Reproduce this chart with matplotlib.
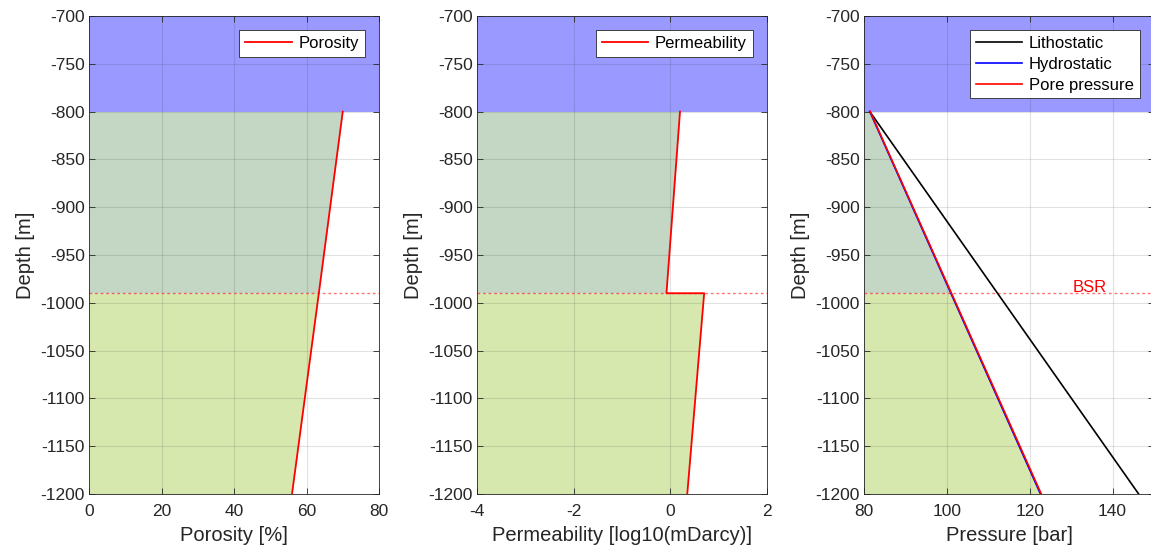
import numpy as np
import matplotlib
matplotlib.use('Agg')
import matplotlib.pyplot as plt

plt.rcParams['font.family'] = ['Liberation Sans', 'DejaVu Sans']
plt.rcParams['axes.unicode_minus'] = False

# Depth model [m]
SeaFloor = -800
BSR = -990
Bottom = -1200
Top = -700

# Porosity [%] at seafloor, BSR, bottom
PorosityDepth = [-800, -990, -1200]
Porosity = [70.0, 63.4, 56.0]

# Permeability [log10(mDarcy)], jump at BSR
PermDepth = [-800, -990, -990, -1200]
Permeability = [0.2, -0.08, 0.7, 0.35]

# Pressure [bar]
PressDepth = [-800, -1200]
Lithostatic = [81.4, 146.3]
Hydrostatic = [81.4, 122.6]
PorePressure = [81.5, 122.8]

SeaColor = '#9999FF'
HydrateColor = '#C4D6C4'
SedColor = '#D6E8AE'
TextColor = '#262626'

fig = plt.figure(figsize=(11.51, 5.49), dpi=100)
bottom = 1 - 494/549
height = (494 - 16)/549
width = 290/1151
ax1 = fig.add_axes([89/1151, bottom, width, height])
ax2 = fig.add_axes([477/1151, bottom, width, height])
ax3 = fig.add_axes([864/1151, bottom, width, height])

def style_axes(ax, xlim, xticks, xlabel):
    ax.set_xlim(xlim)
    ax.set_ylim(Bottom, Top)
    ax.set_xticks(xticks)
    ax.set_yticks(np.arange(-1200, -699, 50))
    ax.tick_params(direction='in', length=4, width=0.6, color=TextColor,
                   labelcolor=TextColor, labelsize=12.5, top=True, right=True, pad=3)
    ax.tick_params(axis='x', pad=7)
    ax.grid(True, color='#262626', alpha=0.13, linewidth=0.8)
    ax.set_axisbelow(False)
    for s in ax.spines.values():
        s.set_color(TextColor)
        s.set_linewidth(0.6)
    ax.set_xlabel(xlabel, fontsize=14.5, color=TextColor, labelpad=5)
    ax.set_ylabel('Depth [m]', fontsize=14.5, color=TextColor, labelpad=4)
    # water column above seafloor
    ax.fill_between(xlim, SeaFloor, Top, color=SeaColor, linewidth=0, zorder=0.5)
    ax.axhline(BSR, color='red', linestyle=(0, (2, 2)), linewidth=1.0, alpha=0.55, zorder=3)

def fill_zones(ax, x, d, xmin):
    x = np.asarray(x, float)
    d = np.asarray(d, float)
    upper = d >= BSR
    lower = d <= BSR
    ax.fill_betweenx(d[upper], xmin, x[upper], color=HydrateColor, linewidth=0, zorder=0.6)
    ax.fill_betweenx(d[lower], xmin, x[lower], color=SedColor, linewidth=0, zorder=0.6)

# Porosity
style_axes(ax1, (0, 80), [0, 20, 40, 60, 80], 'Porosity [%]')
fill_zones(ax1, Porosity, PorosityDepth, 0)
ax1.plot(Porosity, PorosityDepth, color='red', linewidth=1.3, label='Porosity', zorder=4)

# Permeability
style_axes(ax2, (-4, 2), [-4, -2, 0, 2], 'Permeability [log10(mDarcy)]')
ax2.fill_betweenx(PermDepth[:2], -4, Permeability[:2], color=HydrateColor, linewidth=0, zorder=0.6)
ax2.fill_betweenx(PermDepth[2:], -4, Permeability[2:], color=SedColor, linewidth=0, zorder=0.6)
ax2.plot(Permeability, PermDepth, color='red', linewidth=1.3, label='Permeability', zorder=4)

# Pressure
style_axes(ax3, (80, 150), [80, 100, 120, 140], 'Pressure [bar]')
d = np.array([SeaFloor, BSR, Bottom], float)
p = np.interp(-d, -np.array(PressDepth, float), Hydrostatic)
ax3.fill_betweenx(d[:2], 80, p[:2], color=HydrateColor, linewidth=0, zorder=0.6)
ax3.fill_betweenx(d[1:], 80, p[1:], color=SedColor, linewidth=0, zorder=0.6)
ax3.plot(Lithostatic, PressDepth, color='black', linewidth=1.2, label='Lithostatic', zorder=4)
ax3.plot(Hydrostatic, PressDepth, color='blue', linewidth=1.2, label='Hydrostatic', zorder=4)
ax3.plot(PorePressure, PressDepth, color='red', linewidth=1.2, label='Pore pressure', zorder=5)
ax3.text(134.5, BSR - 1.5, 'BSR', color='red', fontsize=12, ha='center', va='bottom', zorder=5)

for ax in (ax1, ax2, ax3):
    leg = ax.legend(loc='upper right', fontsize=12, fancybox=False, framealpha=1,
                    edgecolor=TextColor, borderaxespad=0.85, handlelength=2.8,
                    handletextpad=0.4, borderpad=0.35, labelspacing=0.35)
    leg.get_frame().set_linewidth(0.6)
    leg.set_zorder(10)

fig.savefig('out.png', dpi=100)
